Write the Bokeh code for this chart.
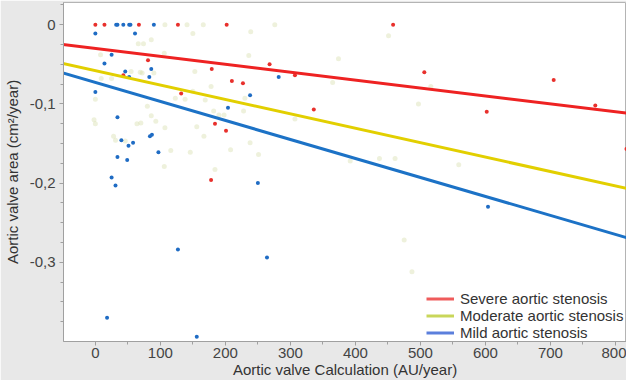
from bokeh.plotting import figure
from bokeh.models import FixedTicker, Legend, LegendItem
from bokeh.embed import file_html
from bokeh.resources import INLINE

# ---- data ----
severe_x = [0, 14, 67, 127, 202, 81, 43, 179, 210, 227, 132, 268, 307, 336, 184, 201, 178, 458, 506, 705, 769, 602, 817]
severe_y = [0, 0, 0, 0, 0, -0.045, -0.064, -0.056, -0.071, -0.074, -0.087, -0.050, -0.064, -0.107, -0.125, -0.134,
            -0.196, 0, -0.060, -0.070, -0.102, -0.110, -0.157]

mild_x = [32, 34, 43, 52, 54, 90, 0, 61, 25, 14, 46, 52, 83, 86, 0, 34, 40, 87, 84, 58, 51, 34, 49, 97, 204, 238,
          282, 25, 31, 250, 127, 264, 18, 156, 604]
mild_y = [0, 0, 0, 0, 0, 0, -0.011, -0.011, -0.038, -0.049, -0.059, -0.066, -0.066, -0.056, -0.085, -0.117, -0.146,
          -0.139, -0.141, -0.149, -0.153, -0.167, -0.171, -0.161, -0.105, -0.089, -0.066, -0.193, -0.203, -0.200,
          -0.284, -0.294, -0.370, -0.394, -0.230]

moderate_x = [107, 141, 166, 276, 150, 239, 66, 74, 86, 106, 8, 236, 9, 25, 55, 69, 72, 90, 153, 178, 150, 123, 138,
              169, 0, 230, 80, 182, 190, 198, 228, -2, 0, 64, 70, 86, 93, 107, 156, 167, 28, 31, 46, 238, 208, 116,
              146, 251, 106, 184, 307, 451, 374, 365, 516, 497, 392, 437, 461, 559, 475, 487]
moderate_y = [0, 0, 0, 0, -0.011, -0.009, -0.024, -0.024, -0.019, -0.036, -0.038, -0.039, -0.068, -0.068, -0.059,
              -0.060, -0.061, -0.061, -0.059, -0.078, -0.084, -0.093, -0.094, -0.095, -0.094, -0.093, -0.103, -0.109,
              -0.114, -0.114, -0.109, -0.120, -0.125, -0.125, -0.124, -0.115, -0.122, -0.130, -0.129, -0.141, -0.141,
              -0.146, -0.147, -0.149, -0.158, -0.159, -0.161, -0.164, -0.179, -0.183, -0.119, -0.014, -0.043, -0.073,
              -0.078, -0.100, -0.172, -0.169, -0.169, -0.177, -0.272, -0.312]

# trend lines (ends at the x-range limits)
trend_x = [-50, 830]
severe_trend = [-0.025, -0.113]
moderate_trend = [-0.049, -0.209]
mild_trend = [-0.061, -0.272]

x_major = [0, 100, 200, 300, 400, 500, 600, 700, 800]
x_minor = [-50, 50, 150, 250, 350, 450, 550, 650, 750]
y_major = [0, -0.1, -0.2, -0.3]
y_major_labels = ["0", "-0,1", "-0,2", "-0,3"]
y_minor = [0.025, -0.025, -0.05, -0.075, -0.125, -0.15, -0.175, -0.225, -0.25, -0.275, -0.325, -0.35, -0.375]

legend_labels = ["Severe aortic stenosis", "Moderate aortic stenosis", "Mild aortic stenosis"]
x_title = "Aortic valve Calculation (AU/year)"
y_title = "Aortic valve area (cm²/year)"

FONT = "Liberation Sans"
NAN = float("nan")

p = figure(width=626, height=380, output_backend="svg", toolbar_location=None,
           x_range=(-49, 817), y_range=(-0.4, 0.028), min_border=0,
           min_border_left=53, min_border_right=0, min_border_top=2, min_border_bottom=34)
p.border_fill_color = "#e8e8e8"
p.background_fill_color = "white"
p.outline_line_color = "#b4b4b4"
p.outline_line_width = 1
p.grid.visible = False

p.xaxis.ticker = FixedTicker(ticks=x_major, minor_ticks=x_minor)
p.yaxis.ticker = FixedTicker(ticks=y_major, minor_ticks=y_minor)
p.yaxis.major_label_overrides = {v: s for v, s in zip(y_major, y_major_labels)}
p.xaxis.axis_label = x_title
p.yaxis.axis_label = y_title
for ax in (p.xaxis[0], p.yaxis[0]):
    ax.axis_line_color = "#a0a0a0"
    ax.major_tick_line_color = "#a0a0a0"
    ax.minor_tick_line_color = "#a0a0a0"
    ax.major_tick_in = 0
    ax.major_tick_out = 4
    ax.minor_tick_in = 0
    ax.minor_tick_out = 3
    ax.major_label_text_font = FONT
    ax.major_label_text_font_size = "15px"
    ax.major_label_text_color = "#444444"
    ax.major_label_text_line_height = 1.0
    ax.axis_label_text_font = FONT
    ax.axis_label_text_font_size = "15px"
    ax.axis_label_text_font_style = "normal"
    ax.axis_label_text_color = "#333333"
    ax.axis_label_text_line_height = 1.0
    ax.axis_label_standoff = 0
p.xaxis.major_label_standoff = 2
p.yaxis.major_label_standoff = 4
p.yaxis.axis_label_standoff = 6

# scatter points
p.scatter(moderate_x, moderate_y, size=5, color="#cdd89c", alpha=0.35, line_width=0)
p.scatter(severe_x, severe_y, size=4, color="#e8302c", line_width=0)
p.scatter(mild_x, mild_y, size=4, color="#1f6cc4", line_width=0)

# trend lines
p.line(trend_x, severe_trend, line_color="#ee2222", line_width=3)
p.line(trend_x, moderate_trend, line_color="#e2cf00", line_width=3)
p.line(trend_x, mild_trend, line_color="#1c72c6", line_width=3)

# legend (lighter swatches as in the reference)
lg_r = p.line(x=[NAN], y=[NAN], line_color="#ef5b5b", line_width=3)
lg_m = p.line(x=[NAN], y=[NAN], line_color="#c9d65a", line_width=3)
lg_b = p.line(x=[NAN], y=[NAN], line_color="#5b7fdc", line_width=3)
legend = Legend(items=[LegendItem(label=legend_labels[0], renderers=[lg_r]),
                       LegendItem(label=legend_labels[1], renderers=[lg_m]),
                       LegendItem(label=legend_labels[2], renderers=[lg_b])],
                location=(363, 0), margin=0, padding=0, spacing=0,
                glyph_width=28, glyph_height=17, label_height=17, label_standoff=6,
                border_line_alpha=0, background_fill_alpha=0,
                label_text_font=FONT, label_text_font_size="15px", label_text_color="#333333")
p.add_layout(legend, "center")

open("out.html", "w").write(file_html(p, INLINE))
